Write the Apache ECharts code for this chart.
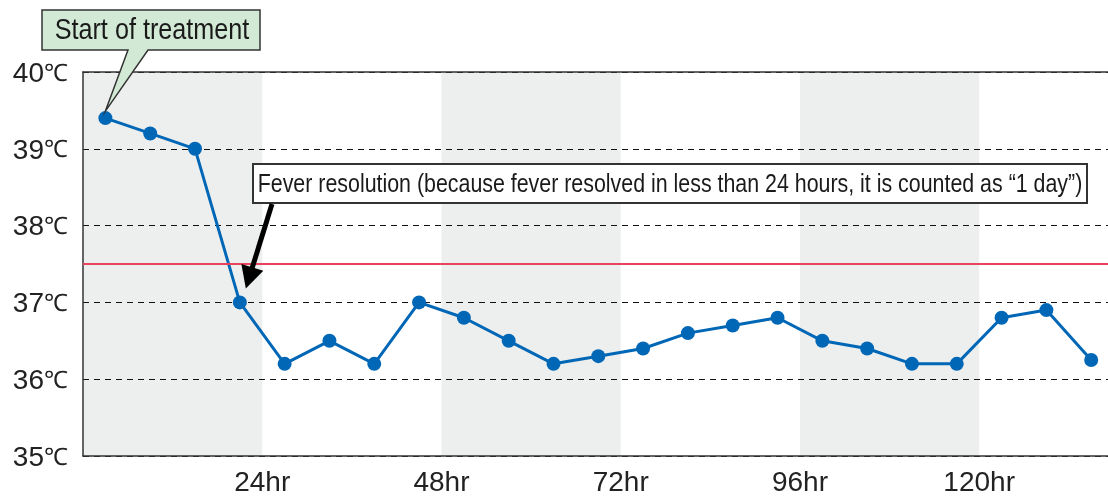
<!DOCTYPE html>
<html>
<head>
<meta charset="utf-8">
<script src="https://cdn.jsdelivr.net/npm/echarts@6/dist/echarts.min.js"></script>
<style>html,body{margin:0;padding:0;background:#fff;overflow:hidden}#c{width:1108px;height:499px}</style>
</head>
<body>
<div id="c"></div>
<script>
// ---- data ----
const hours = [3, 9, 15, 21, 27, 33, 39, 45, 51, 57, 63, 69, 75, 81, 87, 93, 99, 105, 111, 117, 123, 129, 135];
const temps = [39.4, 39.2, 39.0, 37.0, 36.2, 36.5, 36.2, 37.0, 36.8, 36.5, 36.2, 36.3, 36.4, 36.6, 36.7, 36.8, 36.5, 36.4, 36.2, 36.2, 36.8, 36.9, 36.25];
const xTickLabels = [24, 48, 72, 96, 120];
const bands = [[0, 24], [48, 72], [96, 120]];
const threshold = 37.5;
const yMin = 35, yMax = 40, xMin = 0, xMax = 137.25;
const calloutStart = 'Start of treatment';
const calloutFever = 'Fever resolution (because fever resolved in less than 24 hours, it is counted as \u201c1 day\u201d)';

const chart = echarts.init(document.getElementById('c'), null, {renderer: 'canvas'});
const labelColor = '#222';
const option = {
  animation: false,
  textStyle: {fontFamily: 'Liberation Sans'},
  grid: {left: 83, right: 0, top: 72, bottom: 43, containLabel: false},
  xAxis: [{
    type: 'value', min: xMin, max: xMax, interval: 24,
    axisLine: {show: true, lineStyle: {color: '#333', width: 1.5}},
    axisTick: {show: false},
    splitLine: {show: false},
    axisLabel: {
      color: labelColor, fontSize: 28, margin: 13, showMaxLabel: false,
      formatter: v => xTickLabels.indexOf(v) >= 0 ? v + 'hr' : ''
    }
  }, {
    type: 'value', position: 'top', min: xMin, max: xMax, interval: 24,
    axisLine: {show: true, lineStyle: {color: '#333', width: 1.5}},
    axisTick: {show: false}, axisLabel: {show: false}, splitLine: {show: false}
  }],
  yAxis: {
    type: 'value', min: yMin, max: yMax, interval: 1,
    axisLine: {show: true, lineStyle: {color: '#333', width: 1.5}},
    axisTick: {show: false},
    splitLine: {show: true, lineStyle: {color: '#111', type: [6, 5], width: 1.2}},
    axisLabel: {
      color: labelColor, margin: 15, formatter: v => '{n|' + v + '}{u|\u2103}',
      rich: {
        n: {fontSize: 28, fontFamily: 'Liberation Sans', color: labelColor, padding: [4, 0, 0, 0]},
        u: {fontSize: 24, fontFamily: 'Liberation Sans', color: labelColor, padding: [4, 0, 0, 0]}
      }
    }
  },
  series: [{
    type: 'custom', z: -1, silent: true,
    data: bands,
    renderItem: (params, api) => {
      const p0 = api.coord([api.value(0), yMax]);
      const p1 = api.coord([api.value(1), yMin]);
      return {type: 'rect', shape: {x: p0[0], y: p0[1], width: p1[0] - p0[0], height: p1[1] - p0[1]},
              style: {fill: '#edefee'}};
    }
  }, {
    type: 'line',
    data: hours.map((h, i) => [h, temps[i]]),
    symbol: 'circle', symbolSize: 14,
    lineStyle: {color: '#0067b6', width: 3},
    itemStyle: {color: '#0067b6'},
    z: 3,
    markLine: {
      silent: true, symbol: 'none', label: {show: false},
      lineStyle: {color: '#e8435a', type: 'solid', width: 2},
      data: [{yAxis: threshold}]
    }
  }]
};
chart.setOption(option);

// annotations
const p0 = chart.convertToPixel({gridIndex: 0}, [hours[0], temps[0]]);
const p3 = chart.convertToPixel({gridIndex: 0}, [hours[3], temps[3]]);
const tip1 = [p0[0], p0[1] - 7];
const P = [p3[0] + 6, p3[1] - 14];
const T = [272, 204];
let dx = P[0] - T[0], dy = P[1] - T[1];
const len = Math.sqrt(dx * dx + dy * dy); dx /= len; dy /= len;
const headL = 22, headW = 11.5;
const B = [P[0] - dx * headL, P[1] - dy * headL];
const n = [-dy, dx];

chart.setOption({
  graphic: [
    {type: 'polygon', z: 10,
     shape: {points: [[42, 10], [260, 10], [260, 50], [148, 50], tip1, [128, 50], [42, 50]]},
     style: {fill: '#d2ead5', stroke: '#333', lineWidth: 1.5}},
    {type: 'text', z: 11, x: 152, y: 31, scaleX: 0.84,
     style: {text: calloutStart, font: '30px "Liberation Sans"', fill: '#1a1a1a', align: 'center', verticalAlign: 'middle'}},
    {type: 'rect', z: 10, shape: {x: 253, y: 164, width: 834, height: 39},
     style: {fill: '#fff', stroke: '#333', lineWidth: 2}},
    {type: 'text', z: 11, x: 670, y: 185, scaleX: 0.855,
     style: {text: calloutFever, font: '25px "Liberation Sans"', fill: '#1a1a1a', align: 'center', verticalAlign: 'middle'}},
    {type: 'line', z: 10, shape: {x1: T[0], y1: T[1], x2: B[0] + dx * 2, y2: B[1] + dy * 2},
     style: {stroke: '#000', lineWidth: 5}},
    {type: 'polygon', z: 10,
     shape: {points: [P, [B[0] + n[0] * headW, B[1] + n[1] * headW], [B[0] - n[0] * headW, B[1] - n[1] * headW]]},
     style: {fill: '#000'}}
  ]
});
</script>
</body>
</html>
